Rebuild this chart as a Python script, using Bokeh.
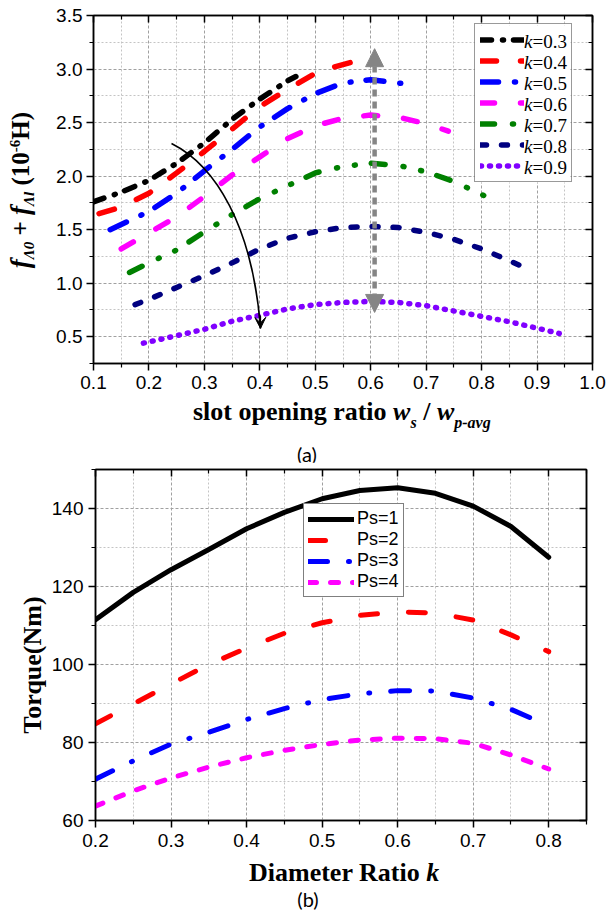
import math
from bokeh.plotting import figure
from bokeh.models import (Range1d, LinearAxis, FixedTicker, PrintfTickFormatter, Legend, LegendItem,
                          Label, Arrow, NormalHead, VeeHead, CustomJSTickFormatter, Div, BoxAnnotation)
from bokeh.layouts import column, row
from bokeh.core.properties import value
from bokeh.embed import file_html
from bokeh.resources import INLINE

# ---------------- data: (a) inductance vs slot opening ratio ----------------
k_names = ["0.3", "0.4", "0.5", "0.6", "0.7", "0.8", "0.9"]
x_k03 = [0.10, 0.15, 0.20, 0.25, 0.30, 0.35, 0.40, 0.45, 0.465]
y_k03 = [1.76, 1.85, 1.96, 2.12, 2.31, 2.53, 2.72, 2.89, 2.93]
x_k04 = [0.11, 0.15, 0.20, 0.25, 0.30, 0.35, 0.40, 0.45, 0.50, 0.535, 0.57]
y_k04 = [1.65, 1.71, 1.84, 2.03, 2.23, 2.44, 2.65, 2.81, 2.96, 3.02, 3.07]
x_k05 = [0.13, 0.20, 0.25, 0.30, 0.35, 0.40, 0.45, 0.50, 0.55, 0.60, 0.665]
y_k05 = [1.50, 1.67, 1.84, 2.05, 2.25, 2.46, 2.63, 2.77, 2.87, 2.90, 2.86]
x_k06 = [0.15, 0.20, 0.25, 0.30, 0.35, 0.40, 0.45, 0.50, 0.55, 0.60, 0.65, 0.70, 0.74]
y_k06 = [1.32, 1.47, 1.62, 1.81, 2.01, 2.18, 2.35, 2.47, 2.54, 2.57, 2.55, 2.49, 2.42]
x_k07 = [0.165, 0.20, 0.25, 0.30, 0.35, 0.40, 0.45, 0.50, 0.55, 0.60, 0.65, 0.70, 0.75, 0.82]
y_k07 = [1.10, 1.19, 1.31, 1.48, 1.64, 1.79, 1.91, 2.03, 2.09, 2.12, 2.10, 2.04, 1.95, 1.78]
x_k08 = [0.175, 0.20, 0.25, 0.30, 0.35, 0.40, 0.45, 0.50, 0.55, 0.60, 0.65, 0.70, 0.75, 0.80, 0.85, 0.88]
y_k08 = [0.80, 0.85, 0.96, 1.07, 1.19, 1.32, 1.42, 1.48, 1.52, 1.53, 1.52, 1.475, 1.41, 1.32, 1.21, 1.14]
x_k09 = [0.19, 0.25, 0.30, 0.35, 0.40, 0.45, 0.50, 0.55, 0.60, 0.65, 0.70, 0.75, 0.80, 0.85, 0.90, 0.94]
y_k09 = [0.44, 0.51, 0.57, 0.645, 0.70, 0.76, 0.80, 0.82, 0.83, 0.82, 0.79, 0.74, 0.69, 0.64, 0.58, 0.53]

xticks_a = [0.1, 0.2, 0.3, 0.4, 0.5, 0.6, 0.7, 0.8, 0.9, 1.0]
xminor_a = [0.15, 0.25, 0.35, 0.45, 0.55, 0.65, 0.75, 0.85, 0.95]
yticks_a = [0.5, 1.0, 1.5, 2.0, 2.5, 3.0, 3.5]
yminor_a = [0.25, 0.75, 1.25, 1.75, 2.25, 2.75, 3.25]

# double arrow at the optimum and the "increasing k" arrow
peak_arrow_x = 0.607
peak_arrow_y = [0.727, 3.19]
curve_arrow = dict(x0=0.2407, y0=2.305, cx0=0.320, cy0=2.099, cx1=0.3868, cy1=1.539, x1=0.4012, y1=0.578)

# ---------------- data: (b) torque vs diameter ratio ----------------
ps_names = ["Ps=1", "Ps=2", "Ps=3", "Ps=4"]
k_ratio = [0.20, 0.25, 0.30, 0.35, 0.40, 0.45, 0.50, 0.55, 0.60, 0.65, 0.70, 0.75, 0.80]
torque_ps1 = [111.5, 118.5, 124.3, 129.5, 134.8, 139.0, 142.5, 144.6, 145.3, 143.9, 140.6, 135.4, 127.5]
torque_ps2 = [84.8, 89.9, 95.0, 100.0, 104.2, 108.0, 110.7, 112.6, 113.5, 113.2, 111.4, 107.6, 103.3]
torque_ps3 = [70.6, 75.3, 79.6, 82.6, 85.9, 88.7, 91.0, 92.5, 93.3, 93.2, 91.4, 88.5, 84.3]
torque_ps4 = [63.7, 67.6, 70.9, 73.7, 76.1, 78.0, 79.5, 80.65, 81.1, 81.0, 79.8, 76.8, 73.2]

xticks_b = [0.2, 0.3, 0.4, 0.5, 0.6, 0.7, 0.8]
xminor_b = [0.25, 0.35, 0.45, 0.55, 0.65, 0.75, 0.85]
yticks_b = [60, 80, 100, 120, 140]
yminor_b = [70, 90, 110, 130, 150]

SERIF = "Liberation Serif"
SANS = "Liberation Sans"

# ---------------- geometry (page pixels, page origin at 0,0) ----------------
PAGE_W = 607
A_L, A_R, A_T, A_B = 93, 592, 15, 363      # frame of (a)
B_L, B_R, B_T, B_B = 95, 586, 469, 820     # frame of (b)
A_XR, A_YR = (0.1, 1.0), (0.25, 3.5)
B_XR, B_YR = (0.2, 0.85), (60, 150)
DA, DB = 40, 46          # widths of the y-title strips
H1 = 400                 # plot (a) height (page 0..400)
CAP_A = 62               # x-title + "(a)" strip (400..462)
TOP_B = H1 + CAP_A       # 462
H2 = 393                 # plot (b) height (462..855)
CAP_B = 912 - TOP_B - H2 - 1  # 56


def ax_px(px):
    return A_XR[0] + (px - A_L) * (A_XR[1] - A_XR[0]) / (A_R - A_L)


def ay_px(py):
    return A_YR[1] - (py - A_T) * (A_YR[1] - A_YR[0]) / (A_B - A_T)


def make_fig(width, height, xr, yr, left, right, top, bottom, xt, xm, yt, ym, xfmt, yfmt):
    p = figure(width=width, height=height, x_range=Range1d(*xr), y_range=Range1d(*yr),
               output_backend="svg", toolbar_location=None,
               min_border_left=left, min_border_right=right,
               min_border_top=top, min_border_bottom=bottom)
    p.background_fill_color = "white"
    p.border_fill_color = "white"
    p.outline_line_color = "black"
    p.outline_line_width = 1.5
    xtk = FixedTicker(ticks=xt, minor_ticks=xm)
    ytk = FixedTicker(ticks=yt, minor_ticks=ym)
    p.xaxis.ticker = xtk
    p.yaxis.ticker = ytk
    p.xaxis.formatter = PrintfTickFormatter(format=xfmt)
    p.yaxis.formatter = PrintfTickFormatter(format=yfmt)
    for ax in (p.xaxis[0], p.yaxis[0]):
        ax.axis_line_width = 1.5
        ax.axis_line_color = "black"
        ax.major_tick_line_width = 1.5
        ax.minor_tick_line_width = 1.2
        ax.major_tick_line_color = "black"
        ax.minor_tick_line_color = "black"
        ax.major_tick_out = 7
        ax.major_tick_in = 0
        ax.minor_tick_out = 4
        ax.minor_tick_in = 0
        ax.major_label_text_font = SANS
        ax.major_label_text_font_size = "19px"
        ax.major_label_text_color = "black"
    p.xaxis.major_label_standoff = 5
    p.yaxis.major_label_standoff = 4
    blank = CustomJSTickFormatter(code="return ''")
    for loc, tk in (("above", xtk), ("right", ytk)):
        ax = LinearAxis(ticker=tk, formatter=blank, major_label_standoff=0,
                        major_label_text_font_size="1px", axis_label_standoff=0,
                        axis_line_width=1.5, major_tick_line_width=1.5, minor_tick_line_width=1.2,
                        major_tick_in=7, major_tick_out=0, minor_tick_in=4, minor_tick_out=0)
        p.add_layout(ax, loc)
    for g in (p.xgrid[0], p.ygrid[0]):
        g.grid_line_color = "#a0a0a0"
        g.grid_line_dash = "3 2"
        g.grid_line_width = 1
        g.minor_grid_line_color = "#c4c4c4"
        g.minor_grid_line_dash = "2 2"
        g.minor_grid_line_width = 1
    return p


def strip(width, height, inner):
    html = (f'<div style="position:relative;width:{width}px;height:{height}px;'
            f'font-family:\'{SERIF}\';color:black;">{inner}</div>')
    return Div(text=html, width=width, height=height, margin=0)


# ====================== figure (a) ======================
p1 = make_fig(PAGE_W - DA, H1, A_XR, A_YR, A_L - DA, PAGE_W - A_R, A_T, H1 - A_B,
              xticks_a, xminor_a, yticks_a, yminor_a, "%.1f", "%.1f")

styles_a = [
    ("black", "11 11 1 10"),
    ("#ff0000", "16 24"),
    ("#0000ff", "18 16 1 15"),
    ("#ff00ff", "14 26"),
    ("#008000", "14 18 1 17 1 16"),
    ("#000080", "6 15"),
    ("#8000ff", "1 8"),
]
series_a = [(x_k03, y_k03), (x_k04, y_k04), (x_k05, y_k05), (x_k06, y_k06),
            (x_k07, y_k07), (x_k08, y_k08), (x_k09, y_k09)]
rends_a = []
for (xs, ys), (col, dash) in zip(series_a, styles_a):
    r = p1.line(xs, ys, line_color=col, line_width=5.5, line_dash=dash,
                line_cap="round", line_join="round")
    rends_a.append(r)

p1.add_layout(Arrow(x_start=peak_arrow_x, y_start=peak_arrow_y[0], x_end=peak_arrow_x, y_end=peak_arrow_y[1],
                    line_color="#858585", line_width=4.5, line_dash="7 5",
                    start=NormalHead(size=18, fill_color="#858585", line_color="#858585"),
                    end=NormalHead(size=18, fill_color="#858585", line_color="#858585")))
p1.bezier(**curve_arrow, line_color="black", line_width=1.6)
p1.add_layout(Arrow(x_start=curve_arrow["x1"] - 0.0004, y_start=curve_arrow["y1"] + 0.12,
                    x_end=curve_arrow["x1"], y_end=curve_arrow["y1"], line_color="black", line_width=1.6,
                    end=VeeHead(size=11, fill_color="black", line_color="black")))

# legend (a): white box, then italic-k labels, then a transparent legend with the line samples
LEG_A_LEFT, LEG_A_TOP, LEG_A_PAD, LEG_A_ROW = 474, 25, 5, 21
LEG_A_W = 5 + 44 + 2 + 40 + 5
LEG_A_H = 2 * LEG_A_PAD + 7 * LEG_A_ROW
p1.add_layout(BoxAnnotation(left=ax_px(LEG_A_LEFT), right=ax_px(LEG_A_LEFT + LEG_A_W),
                            top=ay_px(LEG_A_TOP), bottom=ay_px(LEG_A_TOP + LEG_A_H),
                            fill_color="white", fill_alpha=1.0, line_color=None))
for i, name in enumerate(k_names):
    py = LEG_A_TOP + LEG_A_PAD + LEG_A_ROW / 2 + LEG_A_ROW * i
    for txt, st, al in (("k", "italic", "right"), ("=" + name, "normal", "left")):
        p1.add_layout(Label(x=ax_px(532), y=ay_px(py), text=txt, text_font=SERIF, text_font_size="19px",
                            text_font_style=st, text_align=al, text_baseline="middle",
                            text_color="black"))
leg_a = Legend(items=[LegendItem(label=value(" "), renderers=[r]) for r in rends_a],
               location=(LEG_A_LEFT - A_L, A_B - (LEG_A_TOP + LEG_A_H)),
               margin=0, padding=LEG_A_PAD, spacing=0, glyph_width=44, glyph_height=LEG_A_ROW,
               label_height=LEG_A_ROW, label_width=40, label_standoff=2,
               border_line_color="#333333", border_line_width=1, background_fill_alpha=0.0,
               label_text_font=SERIF, label_text_font_size="17px")
p1.add_layout(leg_a, "center")

# y title (a): rotated, centred at page y=190, baseline near x=28
sub = 'font-size:15px;vertical-align:-5px;'
sup = 'font-size:15px;vertical-align:9px;'
ytitle_a = (f'<div style="position:absolute;left:7px;top:190px;white-space:nowrap;font-size:25px;'
            f'line-height:1;font-weight:bold;transform-origin:left top;'
            f'transform:rotate(-90deg) translateX(-50%);">'
            f'<i style="font-size:27px">f</i><i style="{sub}">\u039b0</i> + '
            f'<i style="font-size:27px">f</i><i style="{sub}">\u039bl</i> '
            f'(10<span style="{sup}">-6</span>H)</div>')
div_ya = strip(DA, H1, ytitle_a)

# x title (a) + caption
xsub = 'font-size:16px;vertical-align:-8px;'
xtitle_a = (f'<div style="position:absolute;left:193px;top:-1px;white-space:nowrap;font-size:26px;'
            f'line-height:1;font-weight:bold;">slot opening ratio '
            f'<i>w</i><i style="{xsub}">s</i> / <i>w</i><i style="{xsub}">p-avg</i></div>'
            f'<div style="position:absolute;left:277px;width:60px;top:{454 - H1 - 11}px;text-align:center;'
            f'font-family:Lato;font-size:20px;line-height:22px;">(a)</div>')
div_xa = strip(PAGE_W, CAP_A, xtitle_a)

# ====================== figure (b) ======================
p2 = make_fig(PAGE_W - DB, H2, B_XR, B_YR, B_L - DB, PAGE_W - B_R, B_T - TOP_B, TOP_B + H2 - B_B,
              xticks_b, xminor_b, yticks_b, yminor_b, "%.1f", "%d")
p2.xaxis.major_label_standoff = 6
p2.yaxis.major_label_standoff = 5

styles_b = [
    ("black", None),
    ("#ff0000", "17 31"),
    ("#0000ff", "19 21 1 21"),
    ("#ff00ff", "8 14"),
]
rends_b = []
for ys, (col, dash) in zip([torque_ps1, torque_ps2, torque_ps3, torque_ps4], styles_b):
    kw = dict(line_color=col, line_width=5, line_cap="round", line_join="round")
    if dash:
        kw["line_dash"] = dash
    rends_b.append(p2.line(k_ratio, ys, **kw))

leg_b = Legend(items=[LegendItem(label=value(n), renderers=[r]) for n, r in zip(ps_names, rends_b)],
               location=(303 - B_L, B_B - 597), margin=0, padding=4, spacing=0,
               glyph_width=46, glyph_height=20, label_height=20, label_standoff=3,
               border_line_color="black", border_line_width=1, background_fill_alpha=1.0,
               label_text_font=SANS, label_text_font_size="18px", label_text_color="black")
p2.add_layout(leg_b, "center")

ytitle_b = (f'<div style="position:absolute;left:20px;top:{665 - TOP_B}px;white-space:nowrap;font-size:26px;'
            f'line-height:1;font-weight:bold;transform-origin:left top;'
            f'transform:rotate(-90deg) translateX(-50%);">Torque(Nm)</div>')
div_yb = strip(DB, H2, ytitle_b)

cap_top = TOP_B + H2
xtitle_b = (f'<div style="position:absolute;left:249px;top:{882 - cap_top - 22}px;white-space:nowrap;'
            f'font-size:26px;line-height:1;font-weight:bold;">Diameter Ratio <i>k</i></div>'
            f'<div style="position:absolute;left:278px;width:60px;top:{899 - cap_top - 11}px;text-align:center;'
            f'font-family:Lato;font-size:20px;line-height:22px;">(b)</div>')
div_xb = strip(PAGE_W, CAP_B, xtitle_b)

layout = column(row(div_ya, p1, spacing=0), div_xa, row(div_yb, p2, spacing=0), div_xb, spacing=0)
open("out.html", "w").write(file_html(layout, INLINE))
